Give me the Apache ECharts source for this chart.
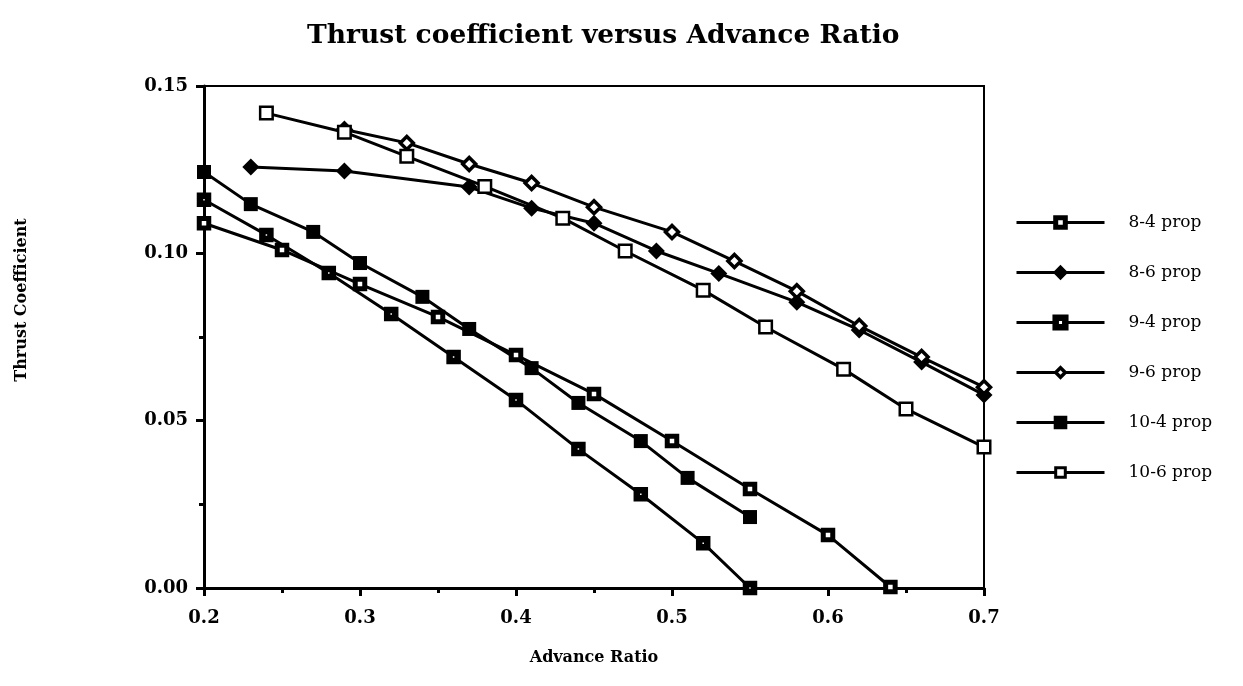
<!DOCTYPE html>
<html>
<head>
<meta charset="utf-8">
<script src="https://cdn.jsdelivr.net/npm/echarts@6/dist/echarts.min.js"></script>
<style>
html,body{margin:0;padding:0;background:#fff;}
#thrustChart{width:1243px;height:686px;}
</style>
</head>
<body>
<div id="thrustChart"></div>
<script>
// advance ratio / thrust coefficient pairs
var prop84X = [0.20, 0.25, 0.30, 0.35, 0.40, 0.45, 0.50, 0.55, 0.60, 0.64];
var prop84Y = [0.109, 0.101, 0.0908, 0.081, 0.0696, 0.058, 0.0439, 0.0296, 0.0158, 0.0003];
var prop86X = [0.23, 0.29, 0.37, 0.41, 0.45, 0.49, 0.53, 0.58, 0.62, 0.66, 0.70];
var prop86Y = [0.1258, 0.1246, 0.1198, 0.1135, 0.109, 0.1007, 0.094, 0.0854, 0.0771, 0.0675, 0.0577];
var prop94X = [0.20, 0.24, 0.28, 0.32, 0.36, 0.40, 0.44, 0.48, 0.52, 0.55];
var prop94Y = [0.116, 0.1055, 0.0941, 0.0819, 0.069, 0.0562, 0.0415, 0.028, 0.0134, 0.0];
var prop96X = [0.29, 0.33, 0.37, 0.41, 0.45, 0.50, 0.54, 0.58, 0.62, 0.66, 0.70];
var prop96Y = [0.137, 0.133, 0.1267, 0.121, 0.1138, 0.1064, 0.0977, 0.0887, 0.0783, 0.069, 0.060];
var prop104X = [0.20, 0.23, 0.27, 0.30, 0.34, 0.37, 0.41, 0.44, 0.48, 0.51, 0.55];
var prop104Y = [0.1243, 0.1147, 0.1064, 0.0971, 0.087, 0.0774, 0.0657, 0.0553, 0.0439, 0.0329, 0.0212];
var prop106X = [0.24, 0.29, 0.33, 0.38, 0.43, 0.47, 0.52, 0.56, 0.61, 0.65, 0.70];
var prop106Y = [0.1419, 0.1362, 0.129, 0.120, 0.1105, 0.1007, 0.089, 0.078, 0.0654, 0.0535, 0.0421];

var serifFont = 'DejaVu Serif';

function pairs(xs, ys){
	var out = [];
	for (var i = 0; i < xs.length; i++) {
		out.push([xs[i], ys[i]]);
	}
	return out;
}

//one line series, black line, marker style varies
function makeSeries(name, xs, ys, symbol, size, fill, border){
	return {
		name: name,
		type: 'line',
		data: pairs(xs, ys),
		symbol: symbol,
		symbolSize: size,
		showAllSymbol: true,
		animation: false,
		lineStyle: {color: '#000', width: 3},
		itemStyle: {color: fill, borderColor: '#000', borderWidth: border, opacity: 1},
		emphasis: {disabled: true}
	};
}

//legend entry, marker border set by hand (legend would default it to 2)
function legendItem(name, border){
	return {
		name: name,
		itemStyle: {borderColor: '#000', borderWidth: border},
		lineStyle: {color: '#000', width: 3}
	};
}

var charts = echarts.init(document.getElementById('thrustChart'));
var option = {
	backgroundColor: '#fff',
	title: {
		text: 'Thrust coefficient versus Advance Ratio',
		left: 302,
		top: 18,
		textStyle: {fontFamily: serifFont, fontWeight: 'bold', fontSize: 26.5, color: '#000'}
	},
	legend: {
		orient: 'vertical',
		left: 1010,
		top: 209,
		itemWidth: 88,
		itemHeight: 12,
		itemGap: 33,
		textStyle: {fontFamily: serifFont, fontSize: 17, color: '#000', padding: [0, 0, 0, 19]},
		data: [
			legendItem('8-4 prop', 5),
			legendItem('8-6 prop', 4),
			legendItem('9-4 prop', 6.5),
			legendItem('9-6 prop', 3.5),
			legendItem('10-4 prop', 4),
			legendItem('10-6 prop', 3)
		]
	},
	grid: {
		left: 204,
		right: 259,
		top: 86,
		bottom: 98,
		show: true,
		borderColor: '#000',
		borderWidth: 2
	},
	graphic: [{
		type: 'text',
		rotation: Math.PI / 2,
		x: 22,
		y: 300,
		style: {
			text: 'Thrust Coefficient',
			fontFamily: serifFont,
			fontWeight: 'bold',
			fontSize: 16,
			fill: '#000',
			align: 'center',
			verticalAlign: 'middle'
		}
	}],
	xAxis: {
		type: 'value',
		min: 0.2,
		max: 0.7,
		interval: 0.1,
		name: 'Advance Ratio',
		nameLocation: 'middle',
		nameGap: 62,
		nameTextStyle: {fontFamily: serifFont, fontWeight: 'bold', fontSize: 16, color: '#000'},
		axisLine: {lineStyle: {color: '#000', width: 3}},
		axisTick: {inside: false, length: 8, lineStyle: {color: '#000', width: 3}},
		minorTick: {show: true, splitNumber: 2, length: 5, lineStyle: {color: '#000', width: 3}},
		splitLine: {show: false},
		axisLabel: {
			margin: 21,
			fontFamily: serifFont,
			fontWeight: 'bold',
			fontSize: 18,
			color: '#000',
			formatter: function(v){ return v.toFixed(1); }
		}
	},
	yAxis: {
		type: 'value',
		min: 0,
		max: 0.15,
		interval: 0.05,
		axisLine: {show: true, lineStyle: {color: '#000', width: 3}},
		axisTick: {show: true, inside: false, length: 8, lineStyle: {color: '#000', width: 3}},
		minorTick: {show: true, splitNumber: 2, length: 5, lineStyle: {color: '#000', width: 3}},
		splitLine: {show: false},
		axisLabel: {
			margin: 16,
			fontFamily: serifFont,
			fontWeight: 'bold',
			fontSize: 18,
			color: '#000',
			formatter: function(v){ return v.toFixed(2); }
		}
	},
	series: [
		makeSeries('8-4 prop', prop84X, prop84Y, 'rect', 9.5, '#fff', 5),
		makeSeries('8-6 prop', prop86X, prop86Y, 'diamond', 17, '#000', 0),
		makeSeries('9-4 prop', prop94X, prop94Y, 'rect', 8, '#fff', 6.5),
		makeSeries('9-6 prop', prop96X, prop96Y, 'diamond', 13, '#fff', 3.5),
		makeSeries('10-4 prop', prop104X, prop104Y, 'rect', 14, '#000', 0),
		makeSeries('10-6 prop', prop106X, prop106Y, 'rect', 12.5, '#fff', 2.5)
	]
};
charts.setOption(option);
</script>
</body>
</html>
